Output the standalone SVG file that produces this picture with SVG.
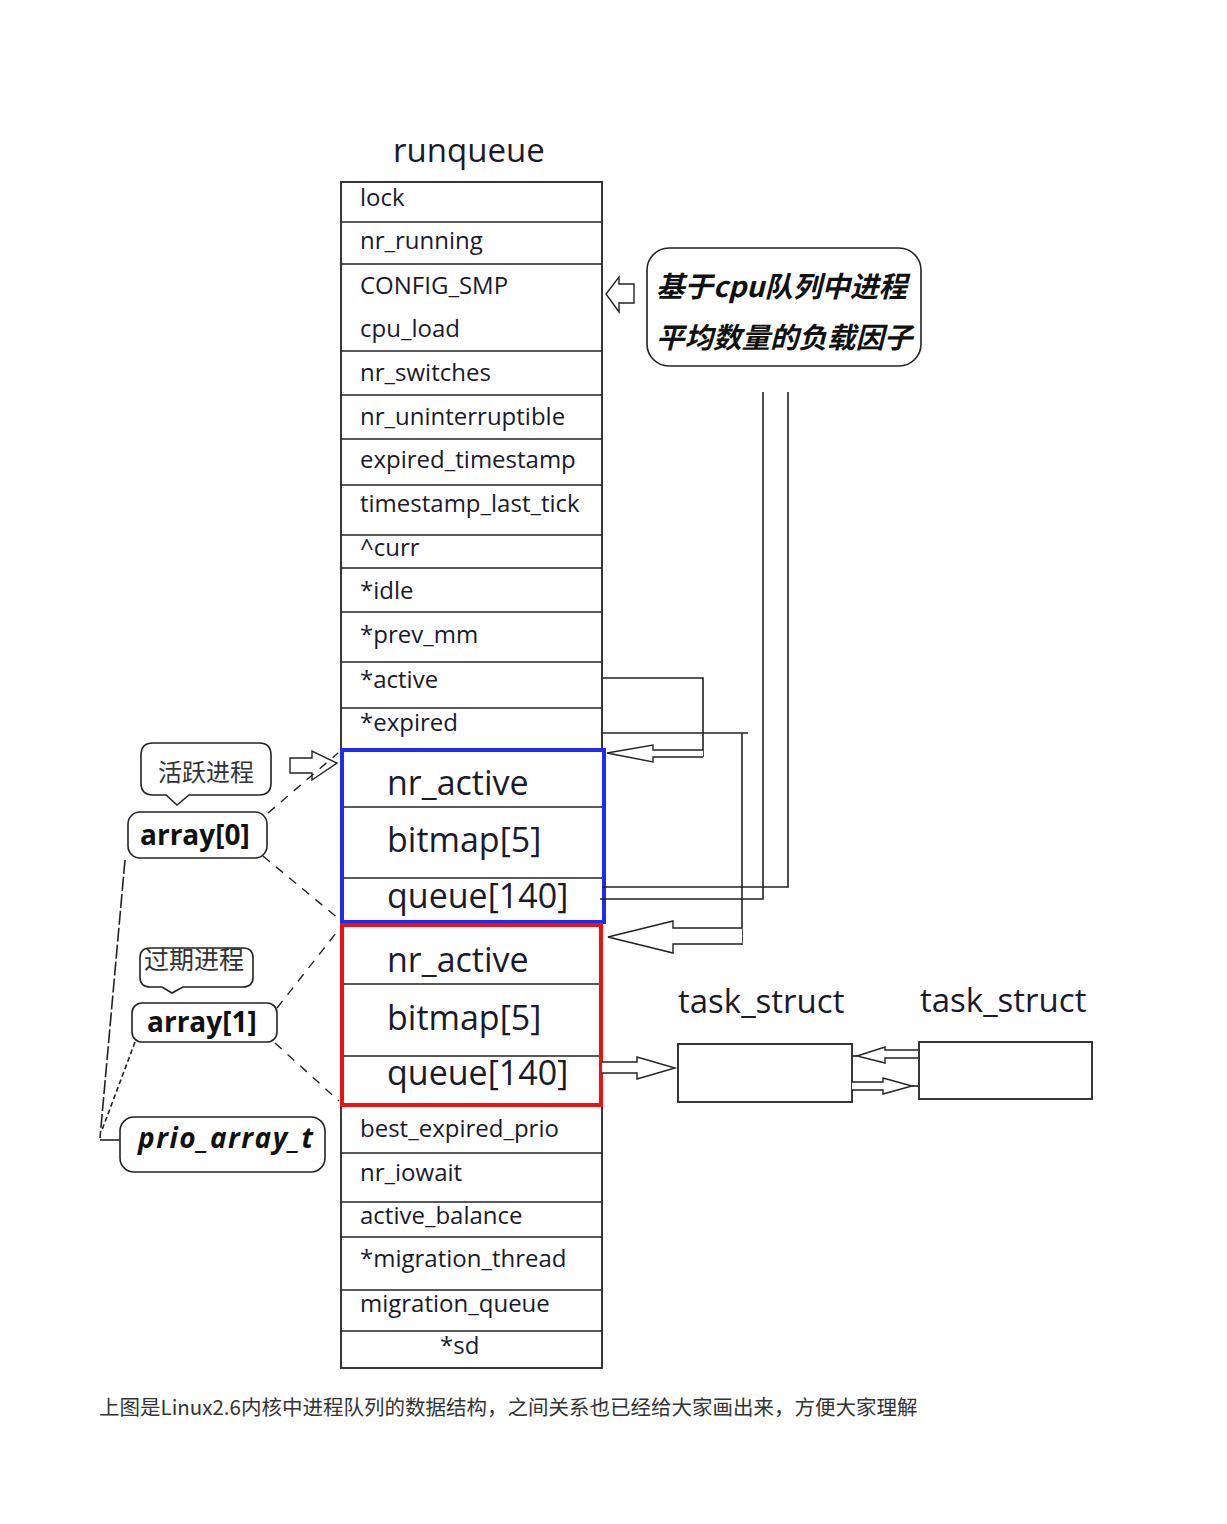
<svg xmlns="http://www.w3.org/2000/svg" width="1227" height="1524" viewBox="0 0 1227 1524">
<defs>
<style>
.bg{fill:#ffffff}
.ln{stroke:#222;stroke-width:1.6;fill:none}
.box{stroke:#222;stroke-width:1.8;fill:#fff}
.dash{stroke:#222;stroke-width:1.4;fill:none;stroke-dasharray:9 8}
.harrow{stroke:#222;stroke-width:1.4;fill:#fff}
.f{font-family:"Open Sans","Liberation Sans",sans-serif;fill:#1a1a2a}
.row{font-size:24px}
.big{font-size:34px}
.ttl{font-size:33px}
.lbl{font-family:"Open Sans","DejaVu Sans",sans-serif;font-weight:bold;font-size:28px;fill:#111}
.cjk{font-family:"Noto Sans CJK SC","Noto Sans CJK JP",sans-serif}
.call{stroke:#222;stroke-width:1.6;fill:#fff}
</style>
</defs>
<rect class="bg" x="0" y="0" width="1227" height="1524"/>

<text class="f ttl" x="393" y="162">runqueue</text>

<g id="runqueue">
<rect class="box" x="341" y="182" width="261" height="1186"/>
<g class="ln">
<line x1="341" y1="222" x2="602" y2="222"/>
<line x1="341" y1="264" x2="602" y2="264"/>
<line x1="341" y1="351" x2="602" y2="351"/>
<line x1="341" y1="395" x2="602" y2="395"/>
<line x1="341" y1="439" x2="602" y2="439"/>
<line x1="341" y1="485" x2="602" y2="485"/>
<line x1="341" y1="535" x2="602" y2="535"/>
<line x1="341" y1="568" x2="602" y2="568"/>
<line x1="341" y1="612" x2="602" y2="612"/>
<line x1="341" y1="662" x2="602" y2="662"/>
<line x1="341" y1="708" x2="602" y2="708"/>
<line x1="341" y1="1153" x2="602" y2="1153"/>
<line x1="341" y1="1202" x2="602" y2="1202"/>
<line x1="341" y1="1237" x2="602" y2="1237"/>
<line x1="341" y1="1290" x2="602" y2="1290"/>
<line x1="341" y1="1331" x2="602" y2="1331"/>
</g>
<g class="f row">
<text x="360" y="206">lock</text>
<text x="360" y="249">nr_running</text>
<text x="360" y="294">CONFIG_SMP</text>
<text x="360" y="337">cpu_load</text>
<text x="360" y="381">nr_switches</text>
<text x="360" y="425">nr_uninterruptible</text>
<text x="360" y="468">expired_timestamp</text>
<text x="360" y="512">timestamp_last_tick</text>
<text x="360" y="556">^curr</text>
<text x="360" y="599">*idle</text>
<text x="360" y="643">*prev_mm</text>
<text x="360" y="688">*active</text>
<text x="360" y="731">*expired</text>
<text x="360" y="1137">best_expired_prio</text>
<text x="360" y="1181">nr_iowait</text>
<text x="360" y="1224">active_balance</text>
<text x="360" y="1267">*migration_thread</text>
<text x="360" y="1312">migration_queue</text>
<text x="440" y="1354">*sd</text>
</g>
</g>

<g id="array0-box">
<rect x="342" y="750" width="262" height="172" fill="#fff" stroke="#1f2bf5" stroke-width="4"/>
<line class="ln" x1="344" y1="807" x2="602" y2="807"/>
<line class="ln" x1="344" y1="878" x2="602" y2="878"/>
<g class="f big">
<text x="387" y="795">nr_active</text>
<text x="387" y="852">bitmap[5]</text>
<text x="387" y="908">queue[140]</text>
</g>
</g>

<g id="array1-box">
<rect x="342" y="925" width="259" height="180" fill="#fff" stroke="#f01010" stroke-width="4"/>
<line class="ln" x1="344" y1="984" x2="599" y2="984"/>
<line class="ln" x1="344" y1="1056" x2="599" y2="1056"/>
<g class="f big">
<text x="387" y="972">nr_active</text>
<text x="387" y="1030">bitmap[5]</text>
<text x="387" y="1085">queue[140]</text>
</g>
</g>

<g id="cpu-load-note">
<rect class="call" x="647" y="248" width="274" height="118" rx="22" ry="22"/>
<text class="cjk" x="656" y="297" font-size="28.5" font-weight="bold" font-style="italic" fill="#111">基于cpu队列中进程</text>
<text class="cjk" x="656" y="348" font-size="28.5" font-weight="bold" font-style="italic" fill="#111">平均数量的负载因子</text>
</g>

<g id="task1">
<text class="f ttl" x="678" y="1013">task_struct</text>
<rect class="box" x="678" y="1044" width="174" height="58"/>
</g>
<g id="task2">
<text class="f ttl" x="920" y="1012">task_struct</text>
<rect class="box" x="919" y="1042" width="173" height="57"/>
</g>

<g id="label-active">
<path class="call" d="M153,743 H259 Q271,743 271,755 V783 Q271,795 259,795 H189 L177,805 L166,795 H153 Q141,795 141,783 V755 Q141,743 153,743 Z"/>
<text class="cjk" x="158" y="781" font-size="24" fill="#333">活跃进程</text>
</g>
<g id="label-array0">
<rect class="call" x="128" y="812" width="139" height="46" rx="12" ry="12"/>
<text class="lbl" x="140" y="845">array[0]</text>
</g>
<g id="label-expired">
<path class="call" d="M150,948 H243 Q253,948 253,958 V977 Q253,987 243,987 H183 L172,993 L162,987 H150 Q140,987 140,977 V958 Q140,948 150,948 Z"/>
<text class="cjk" x="144" y="969" font-size="25" fill="#333">过期进程</text>
</g>
<g id="label-array1">
<rect class="call" x="132" y="1003" width="145" height="39" rx="10" ry="10"/>
<text class="lbl" x="147" y="1032">array[1]</text>
</g>
<g id="label-prio">
<rect class="call" x="120" y="1117" width="205" height="55" rx="14" ry="14"/>
<text class="lbl" x="138" y="1148" font-style="italic" font-size="30" textLength="175" lengthAdjust="spacing">prio_array_t</text>
</g>

<g id="connectors">
<polygon class="harrow" points="634,284 619,284 619,277 606,294 619,312 619,303 634,303"/>
<polyline class="ln" points="602,678 703,678 703,757"/>
<polyline class="harrow" points="703,750 653,750 653,745 607,753 653,762 653,757 703,757"/>
<line class="ln" x1="602" y1="733" x2="748" y2="733"/>
<line class="ln" x1="742" y1="733" x2="742" y2="945"/>
<polyline class="harrow" points="742,928 673,928 673,921 608,937 673,953 673,944 742,944"/>
<polyline class="ln" points="763,392 763,899 600,899"/>
<polyline class="ln" points="788,392 788,887 602,887"/>
<polyline class="harrow" points="602,1062 637,1062 637,1057 675,1068 637,1079 637,1073 602,1073"/>
<polyline class="harrow" points="918,1050 885,1050 885,1047 857,1056 885,1063 885,1058 918,1058"/>
<line class="ln" x1="852" y1="1056" x2="857" y2="1056"/>
<polyline class="harrow" points="852,1082 883,1082 883,1078 912,1086 883,1094 883,1090 852,1090"/>
<line class="ln" x1="912" y1="1086" x2="918" y2="1086"/>
<polygon class="harrow" points="290,758 312,758 312,751 337,763 312,780 312,773 290,773"/>
<line class="dash" x1="268" y1="813" x2="338" y2="753"/>
<line class="dash" x1="263" y1="856" x2="339" y2="919"/>
<line class="dash" x1="277" y1="1008" x2="340" y2="928"/>
<line class="dash" x1="275" y1="1043" x2="339" y2="1101"/>
<line class="ln" x1="125" y1="860" x2="100" y2="1138" stroke-width="1.2" stroke-dasharray="14 3"/>
<line class="ln" x1="135" y1="1042" x2="102" y2="1130" stroke-width="1.2" stroke-dasharray="5 3"/>
<line class="ln" x1="100" y1="1140" x2="120" y2="1140"/>
</g>

<text class="cjk" x="99" y="1415" font-size="20.5" fill="#333">上图是Linux2.6内核中进程队列的数据结构，之间关系也已经给大家画出来，方便大家理解</text>
</svg>
